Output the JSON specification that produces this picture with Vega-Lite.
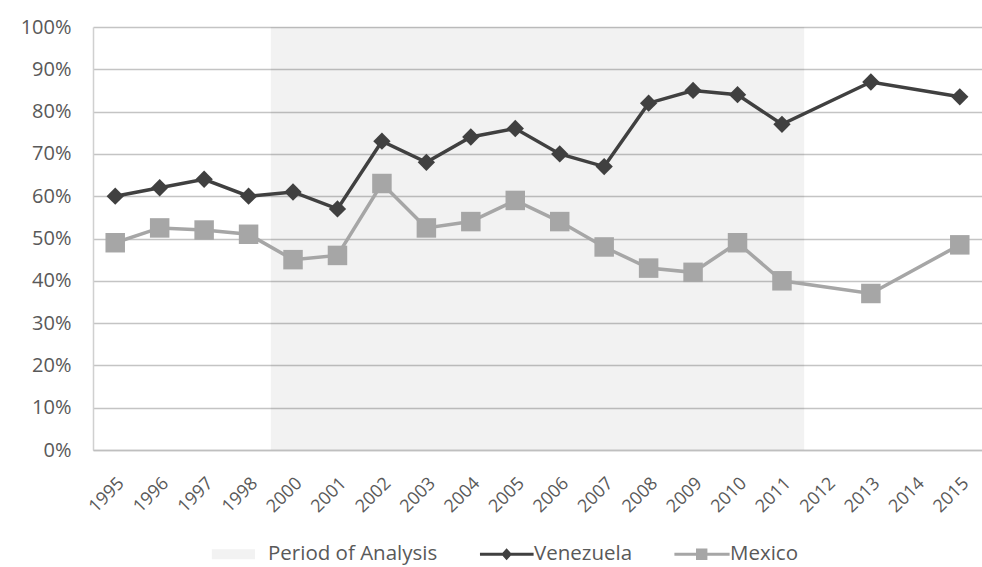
{
  "$schema": "https://vega.github.io/schema/vega-lite/v6.json",
  "width": 889,
  "height": 423,
  "autosize": {"type": "none"},
  "padding": {"left": 93, "top": 27, "right": 0, "bottom": 117},
  "background": "white",
  "config": {
    "font": "Open Sans",
    "view": {"stroke": null},
    "axisX": {"labelAngle": -45, "labelFontSize": 18, "labelColor": "#595959", "ticks": false, "labelPadding": 24, "domainColor": "#bfbfbf", "domainWidth": 1.5, "grid": false, "title": null},
    "axisY": {"labelFontSize": 20, "labelColor": "#595959", "ticks": false, "labelPadding": 22, "domainColor": "#d0d0d0", "domainWidth": 1.5, "grid": true, "gridColor": "#c4c4c4", "gridWidth": 1.5, "title": null}
  },
  "datasets": {
    "period": [{"start": "2000", "end": "2011", "series": "Period of Analysis"}],
    "lines": [
      {"year": "1995", "series": "Venezuela", "value": 0.60},
      {"year": "1996", "series": "Venezuela", "value": 0.62},
      {"year": "1997", "series": "Venezuela", "value": 0.64},
      {"year": "1998", "series": "Venezuela", "value": 0.60},
      {"year": "2000", "series": "Venezuela", "value": 0.61},
      {"year": "2001", "series": "Venezuela", "value": 0.57},
      {"year": "2002", "series": "Venezuela", "value": 0.73},
      {"year": "2003", "series": "Venezuela", "value": 0.68},
      {"year": "2004", "series": "Venezuela", "value": 0.74},
      {"year": "2005", "series": "Venezuela", "value": 0.76},
      {"year": "2006", "series": "Venezuela", "value": 0.70},
      {"year": "2007", "series": "Venezuela", "value": 0.67},
      {"year": "2008", "series": "Venezuela", "value": 0.82},
      {"year": "2009", "series": "Venezuela", "value": 0.85},
      {"year": "2010", "series": "Venezuela", "value": 0.84},
      {"year": "2011", "series": "Venezuela", "value": 0.77},
      {"year": "2013", "series": "Venezuela", "value": 0.87},
      {"year": "2015", "series": "Venezuela", "value": 0.835},
      {"year": "1995", "series": "Mexico", "value": 0.49},
      {"year": "1996", "series": "Mexico", "value": 0.525},
      {"year": "1997", "series": "Mexico", "value": 0.52},
      {"year": "1998", "series": "Mexico", "value": 0.51},
      {"year": "2000", "series": "Mexico", "value": 0.45},
      {"year": "2001", "series": "Mexico", "value": 0.46},
      {"year": "2002", "series": "Mexico", "value": 0.63},
      {"year": "2003", "series": "Mexico", "value": 0.525},
      {"year": "2004", "series": "Mexico", "value": 0.54},
      {"year": "2005", "series": "Mexico", "value": 0.59},
      {"year": "2006", "series": "Mexico", "value": 0.54},
      {"year": "2007", "series": "Mexico", "value": 0.48},
      {"year": "2008", "series": "Mexico", "value": 0.43},
      {"year": "2009", "series": "Mexico", "value": 0.42},
      {"year": "2010", "series": "Mexico", "value": 0.49},
      {"year": "2011", "series": "Mexico", "value": 0.40},
      {"year": "2013", "series": "Mexico", "value": 0.37},
      {"year": "2015", "series": "Mexico", "value": 0.485}
    ]
  },
  "layer": [
    {
      "data": {"name": "period"},
      "mark": {"type": "rect", "fill": "#000000", "fillOpacity": 0.052},
      "encoding": {
        "x": {
          "field": "start", "type": "ordinal", "bandPosition": 0, "title": null,
          "scale": {"type": "band", "domain": ["1995","1996","1997","1998","2000","2001","2002","2003","2004","2005","2006","2007","2008","2009","2010","2011","2012","2013","2014","2015"], "paddingInner": 0, "paddingOuter": 0}
        },
        "x2": {"field": "end", "bandPosition": 1},
        "y": {"datum": 0, "type": "quantitative", "scale": {"domain": [0, 1]}, "axis": {"format": ".0%", "values": [0,0.1,0.2,0.3,0.4,0.5,0.6,0.7,0.8,0.9,1], "grid": true}},
        "y2": {"datum": 1}
      }
    },
    {
      "data": {"name": "lines"},
      "mark": {"type": "line", "strokeWidth": 3.5},
      "encoding": {
        "x": {"field": "year", "type": "ordinal", "title": null},
        "y": {"field": "value", "type": "quantitative"},
        "color": {
          "field": "series", "type": "nominal",
          "scale": {"domain": ["Period of Analysis", "Venezuela", "Mexico"], "range": ["#f2f2f2", "#404040", "#a6a6a6"]},
          "legend": {
            "title": null, "orient": "none", "direction": "horizontal", "legendX": 138, "legendY": 515, "padding": 0,
            "labelFontSize": 20.5, "labelColor": "#595959", "labelLimit": 400, "symbolSize": 576, "labelOffset": 13, "columnPadding": 41,
            "encode": {"symbols": {"update": {
              "shape": {"signal": "datum.value === 'Period of Analysis' ? 'M-2.6,-0.42H1V0.42H-2.6Z' : (datum.value === 'Venezuela' ? 'M-2.42,-0.13H2.05V0.13H-2.42Z M-0.2,-0.5L0.25,0L-0.2,0.5L-0.65,0Z' : 'M-2.55,-0.13H2.05V0.13H-2.55Z M-0.75,-0.48H0.2V0.48H-0.75Z')"},
              "fill": {"signal": "scale('color', datum.value)"},
              "stroke": {"value": "transparent"},
              "strokeWidth": {"value": 0},
              "opacity": {"value": 1},
              "fillOpacity": {"value": 1}
            }}}
          }
        }
      }
    },
    {
      "data": {"name": "lines"},
      "mark": {"type": "point", "filled": true, "opacity": 1},
      "encoding": {
        "x": {"field": "year", "type": "ordinal", "title": null},
        "y": {"field": "value", "type": "quantitative"},
        "color": {"field": "series", "type": "nominal"},
        "shape": {"field": "series", "type": "nominal", "scale": {"domain": ["Venezuela", "Mexico"], "range": ["diamond", "square"]}, "legend": null},
        "size": {"field": "series", "type": "nominal", "scale": {"domain": ["Venezuela", "Mexico"], "range": [300, 380]}, "legend": null}
      }
    }
  ]
}
